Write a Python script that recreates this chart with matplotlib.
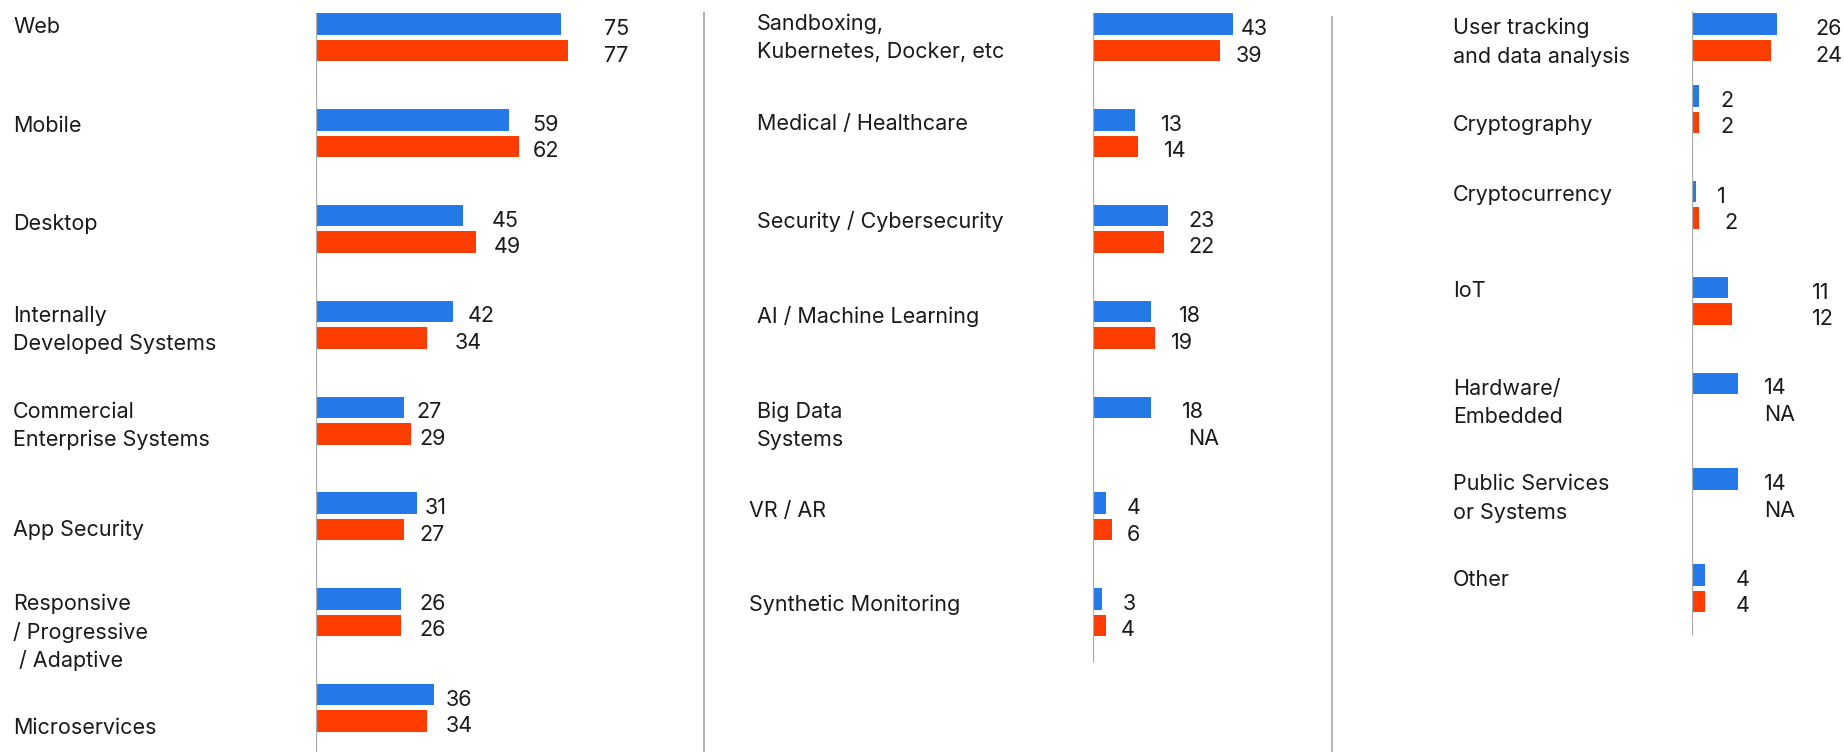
import numpy as np
import matplotlib.pyplot as plt
from matplotlib import transforms
from matplotlib.lines import Line2D

plt.rcParams['font.family'] = ['Inter', 'DejaVu Sans']

#----------- data
cat1 = ['Web', 'Mobile', 'Desktop', 'Internally\nDeveloped Systems',
        'Commercial\nEnterprise Systems', 'App Security',
        'Responsive\n/ Progressive\n / Adaptive', 'Microservices']
blue1 = [75, 59, 45, 42, 27, 31, 26, 36]
red1 = [77, 62, 49, 34, 29, 27, 26, 34]

cat2 = ['Sandboxing,\nKubernetes, Docker, etc', 'Medical / Healthcare',
        'Security / Cybersecurity', 'AI / Machine Learning', 'Big Data\nSystems',
        'VR / AR', 'Synthetic Monitoring']
blue2 = [43, 13, 23, 18, 18, 4, 3]
red2 = [39, 14, 22, 19, None, 6, 4]

cat3 = ['User tracking\nand data analysis', 'Cryptography', 'Cryptocurrency', 'IoT',
        'Hardware/\nEmbedded', 'Public Services\nor Systems', 'Other']
blue3 = [26, 2, 1, 11, 14, 14, 4]
red3 = [24, 2, 2, 12, None, None, 4]

#----------- layout (pixels of a 1844x752 canvas)
W, H = 1844, 752
SCALE = 3.27          # px per unit of value
BLUE = '#2679E8'
RED = '#FF3D00'
TXT = '#1a1a1a'
AXC = '#aaaaaa'
Y_TOP, Y_BOT = -0.389, 7.46
OFF, BH = 0.138, 0.225
LINE_STEP = 0.2975    # baseline-to-baseline for wrapped labels

panels = [
    dict(cats=cat1, blue=blue1, red=red1, ax_x=316, ax_right=700,
         pos=np.arange(8), lab_x=[13] * 8,
         lab_dy=[-0.04, -0.015, 0.01, -0.03, -0.03, 0.21, -0.02, 0.27],
         vx_b=[88.1, 66.2, 53.6, 46.4, 30.6, 33.1, 31.7, 39.6],
         vx_r=[88.1, 66.2, 54.3, 42.4, 31.7, 31.7, 31.7, 39.6],
         line=(-0.257, Y_BOT)),
    dict(cats=cat2, blue=blue2, red=red2, ax_x=1092.5, ax_right=1330,
         pos=np.arange(7), lab_x=[757, 757, 757, 757, 757, 749, 749],
         lab_dy=[-0.08, -0.03, -0.01, -0.015, -0.03, 0.01, -0.01],
         vx_b=[45.4, 21.0, 29.4, 26.3, 27.5, 10.4, 9.1],
         vx_r=[43.9, 21.9, 29.4, 24.1, 29.1, 10.4, 8.5],
         line=(-0.264, 6.52)),
    dict(cats=cat3, blue=blue3, red=red3, ax_x=1692.3, ax_right=1844,
         pos=np.array([0, 0.75, 1.75, 2.75, 3.75, 4.75, 5.75]), lab_x=[1453] * 7,
         lab_dy=[-0.03, 0.23, -0.04, -0.04, -0.02, -0.02, -0.02],
         vx_b=[37.5, 8.5, 7.5, 36.7, 21.9, 21.9, 13.3],
         vx_r=[37.5, 8.5, 9.8, 36.7, 21.9, 21.9, 13.3],
         line=(-0.275, 6.24)),
]

fig = plt.figure(figsize=(W / 100, H / 100), dpi=100)
fig.patch.set_facecolor('white')

for p in panels:
    wpx = p['ax_right'] - p['ax_x']
    ax = fig.add_axes([p['ax_x'] / W, 0, wpx / W, 1])
    ax.set_xlim(0, wpx / SCALE)
    ax.set_ylim(Y_BOT, Y_TOP)
    ax.axis('off')

    pos = p['pos']
    b = np.array(p['blue'], dtype=float)
    r = np.array([np.nan if v is None else v for v in p['red']], dtype=float)
    ok = ~np.isnan(r)

    ax.barh(pos - OFF, b, height=BH, color=BLUE, zorder=2)
    ax.barh(pos[ok] + OFF, r[ok], height=BH, color=RED, zorder=2)
    ax.vlines(0, p['line'][0], p['line'][1], color=AXC, lw=0.9, zorder=3)

    # value labels
    for i in range(len(pos)):
        ax.text(p['vx_b'][i], pos[i] - OFF + 0.115, '{:.0f}'.format(b[i]),
                fontsize=15.5, color=TXT, va='baseline', ha='left')
        rt = 'NA' if np.isnan(r[i]) else '{:.0f}'.format(r[i])
        ax.text(p['vx_r'][i], pos[i] + OFF + 0.115, rt,
                fontsize=15.5, color=TXT, va='baseline', ha='left')

    # category labels, one text per line so the first baseline sits at the group
    tr = transforms.blended_transform_factory(fig.transFigure, ax.transData)
    for i, c in enumerate(p['cats']):
        for k, line in enumerate(c.split('\n')):
            ax.text(p['lab_x'][i] / W, pos[i] + p['lab_dy'][i] + k * LINE_STEP, line,
                    transform=tr, fontsize=15.5, color=TXT, va='baseline', ha='left')

# panel separators
fig.add_artist(Line2D([703.5 / W] * 2, [0, 1 - 13 / H], transform=fig.transFigure,
                      color='#b5b5b5', lw=1.5))
fig.add_artist(Line2D([1332 / W] * 2, [0, 1 - 17 / H], transform=fig.transFigure,
                      color='#b5b5b5', lw=1.5))

plt.savefig('out.png', dpi=100, facecolor='white')
